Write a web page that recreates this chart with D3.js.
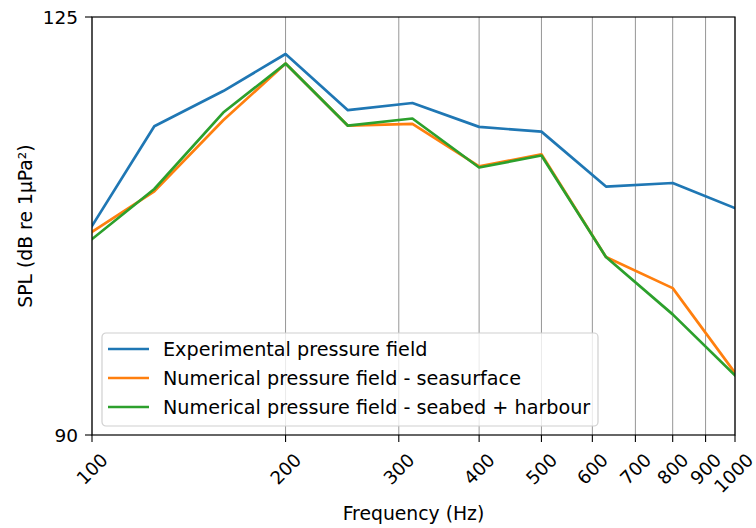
<!DOCTYPE html>
<html>
<head>
<meta charset="utf-8">
<script src="https://cdn.jsdelivr.net/npm/d3@7"></script>
<style>
  body { margin: 0; background: #fff; }
  text { font-family: "DejaVu Sans", sans-serif; fill: #000; }
</style>
</head>
<body>
<svg id="chart"></svg>
<script>
var frequencies = [100, 125, 160, 200, 250, 315, 400, 500, 630, 800, 1000];
var experimental = [107.5, 115.85, 118.8, 121.9, 117.2, 117.8, 115.8, 115.4, 110.8, 111.1, 109.0];
var seasurface = [107.0, 110.4, 116.35, 121.1, 115.9, 116.05, 112.5, 113.5, 104.9, 102.3, 95.2];
var seabedHarbour = [106.4, 110.6, 117.0, 121.1, 115.9, 116.5, 112.4, 113.4, 104.9, 100.1, 95.0];

var seriesNames = ["Experimental pressure field", "Numerical pressure field - seasurface", "Numerical pressure field - seabed + harbour"];
var seriesColors = ["#1f77b4", "#ff7f0e", "#2ca02c"];
var xTicks = [100, 200, 300, 400, 500, 600, 700, 800, 900, 1000];
var yTicks = [90, 125];

var W = 756, H = 528;
var margin = { top: 17, right: 21, bottom: 93, left: 92 };

var svg = d3.select("#chart").attr("width", W).attr("height", H);

var x = d3.scaleLog()
  .domain([100, 1000])
  .range([margin.left, W - margin.right]);

var y = d3.scaleLinear()
  .domain([90, 125])
  .range([H - margin.bottom, margin.top]);

var x0 = x.range()[0], x1 = x.range()[1], yb = y.range()[0], yt = y.range()[1];

// vertical grid lines at every tick
svg.append("g")
  .selectAll("line")
  .data(xTicks)
  .enter().append("line")
    .attr("x1", function(d) { return x(d); })
    .attr("x2", function(d) { return x(d); })
    .attr("y1", yt).attr("y2", yb)
    .attr("stroke", "#8a8a8a")
    .attr("stroke-width", 0.9);

svg.append("defs").append("clipPath").attr("id", "clip")
  .append("rect").attr("x", x0).attr("y", yt).attr("width", x1 - x0).attr("height", yb - yt);

var line = d3.line()
  .x(function(d) { return x(d[0]); })
  .y(function(d) { return y(d[1]); });

var allSeries = [experimental, seasurface, seabedHarbour];

svg.append("g")
  .attr("clip-path", "url(#clip)")
  .selectAll("path")
  .data(allSeries)
  .enter().append("path")
    .attr("d", function(vals) { return line(d3.zip(frequencies, vals)); })
    .attr("fill", "none")
    .attr("stroke", function(d, i) { return seriesColors[i]; })
    .attr("stroke-width", 2.7)
    .attr("stroke-linejoin", "round")
    .attr("stroke-linecap", "square");

// x axis ticks and rotated labels
var xAxis = svg.append("g");
xAxis.selectAll("line")
  .data(xTicks)
  .enter().append("line")
    .attr("x1", function(d) { return x(d); })
    .attr("x2", function(d) { return x(d); })
    .attr("y1", yb).attr("y2", yb + 7)
    .attr("stroke", "#000")
    .attr("stroke-width", 1.1);

xAxis.selectAll("text")
  .data(xTicks)
  .enter().append("text")
    .attr("font-size", 18.2)
    .attr("text-anchor", "middle")
    .attr("dy", "0.36em")
    .text(function(d) { return d; })
    .attr("transform", function(d) {
      var len = this.getComputedTextLength();
      var cx = d === 1000 ? x(d) - 1.5 : x(d);
      var cy = yb + 17 + (len + 13) * 0.3536;
      return "translate(" + cx + "," + cy + ") rotate(-45)";
    });

// y axis ticks and labels
var yAxis = svg.append("g");
yAxis.selectAll("line")
  .data(yTicks)
  .enter().append("line")
    .attr("x1", x0 - 7).attr("x2", x0)
    .attr("y1", function(d) { return y(d); })
    .attr("y2", function(d) { return y(d); })
    .attr("stroke", "#000")
    .attr("stroke-width", 1.1);

yAxis.selectAll("text")
  .data(yTicks)
  .enter().append("text")
    .attr("font-size", 18.5)
    .attr("text-anchor", "end")
    .attr("x", x0 - 14)
    .attr("y", function(d) { return y(d); })
    .attr("dy", "0.36em")
    .text(function(d) { return d; });

// spines
svg.append("rect")
  .attr("x", x0).attr("y", yt)
  .attr("width", x1 - x0).attr("height", yb - yt)
  .attr("fill", "none")
  .attr("stroke", "#000")
  .attr("stroke-width", 1.2);

// axis titles
svg.append("text")
  .attr("font-size", 18.8)
  .attr("text-anchor", "middle")
  .attr("x", (x0 + x1) / 2)
  .attr("y", 520)
  .text("Frequency (Hz)");

svg.append("text")
  .attr("font-size", 18.8)
  .attr("text-anchor", "middle")
  .attr("transform", "translate(32," + ((yt + yb) / 2) + ") rotate(-90)")
  .text("SPL (dB re 1μPa²)");

// legend
var legend = svg.append("g").attr("transform", "translate(102,333)");
legend.append("rect")
  .attr("width", 496).attr("height", 93)
  .attr("rx", 4)
  .attr("fill", "#fff").attr("fill-opacity", 0.8)
  .attr("stroke", "#d0d0d0").attr("stroke-width", 1.2);

var item = legend.selectAll("g.item")
  .data(seriesNames)
  .enter().append("g")
    .attr("class", "item")
    .attr("transform", function(d, i) { return "translate(0," + (16 + i * 29) + ")"; });

item.append("line")
  .attr("x1", 6).attr("x2", 47)
  .attr("stroke", function(d, i) { return seriesColors[i]; })
  .attr("stroke-width", 2.7);

item.append("text")
  .attr("x", 61)
  .attr("dy", "0.36em")
  .attr("font-size", 19.2)
  .text(function(d) { return d; });
</script>
</body>
</html>
